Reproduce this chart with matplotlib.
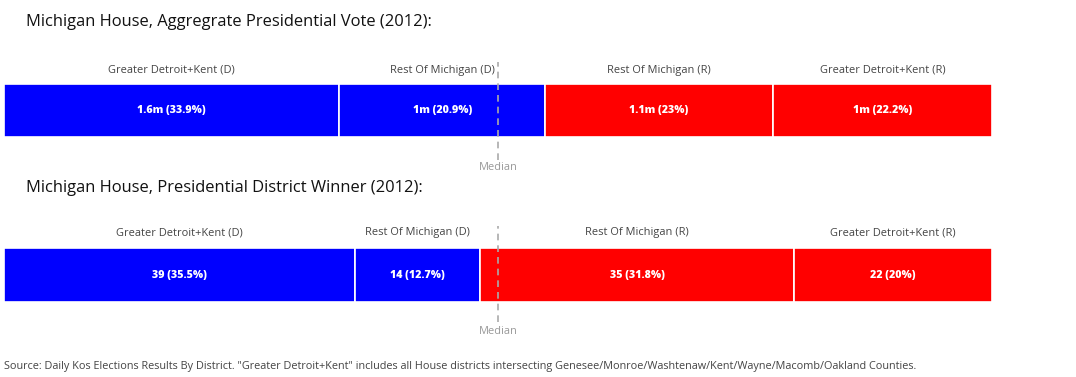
import matplotlib.pyplot as plt

plt.rcParams['font.family'] = ['Open Sans', 'DejaVu Sans']

# segments, in order left to right
segments = ["Greater Detroit+Kent (D)", "Rest Of Michigan (D)",
            "Rest Of Michigan (R)", "Greater Detroit+Kent (R)"]
colors = ["#0000ff", "#0000ff", "#ff0000", "#ff0000"]

vote_share = [33.9, 20.9, 23.0, 22.2]
vote_labels = ["1.6m (33.9%)", "1m (20.9%)", "1.1m (23%)", "1m (22.2%)"]

seats = [39, 14, 35, 22]
seat_share = [35.5, 12.7, 31.8, 20.0]
seat_labels = ["39 (35.5%)", "14 (12.7%)", "35 (31.8%)", "22 (20%)"]

title_top = "Michigan House, Aggregrate Presidential Vote (2012):"
title_bottom = "Michigan House, Presidential District Winner (2012):"
source = ('Source: Daily Kos Elections Results By District. "Greater Detroit+Kent" includes all House '
          'districts intersecting Genesee/Monroe/Washtenaw/Kent/Wayne/Macomb/Oakland Counties.')

W, H = 1076, 377
fig = plt.figure(figsize=(W / 100, H / 100), dpi=100)


def draw_strip(ax, shares, labels, cat_y, line_top, line_bot, med_y):
    left = 0
    for name, val, lab, c in zip(segments, shares, labels, colors):
        ax.barh(0.5, val, left=left, height=1, color=c, edgecolor="white", linewidth=1.2)
        mid = left + val / 2
        ax.text(mid, 0.5, lab, ha="center", va="center", color="white",
                fontsize=7.7, fontweight="heavy")
        ax.text(mid, cat_y, name, ha="center", va="center", color="#444444",
                fontsize=7.9, clip_on=False)
        left += val
    ax.plot([50, 50], [line_bot, line_top], color="#aaaaaa", lw=1.2,
            ls=(0, (4, 3)), clip_on=False, zorder=5)
    ax.text(50, med_y, "Median", ha="center", va="center", color="#999999",
            fontsize=7.9, clip_on=False)
    ax.set_xlim(0, 100)
    ax.set_ylim(0, 1)
    ax.axis("off")


x0, x1 = 4 / W, 992 / W
ax1 = fig.add_axes([x0, 1 - 137 / H, x1 - x0, 53 / H])
draw_strip(ax1, vote_share, vote_labels, 1.264, 1.415, -0.434, -0.58)

ax2 = fig.add_axes([x0, 1 - 302 / H, x1 - x0, 54 / H])
draw_strip(ax2, seat_share, seat_labels, 1.278, 1.407, -0.37, -0.55)

fig.text(26 / W, 1 - 22 / H, title_top, ha="left", va="center", fontsize=11.85, color="#111111")
fig.text(26 / W, 1 - 188 / H, title_bottom, ha="left", va="center", fontsize=11.85, color="#111111")
fig.text(4 / W, 1 - 366 / H, source, ha="left", va="center", fontsize=7.85, color="#444444")

fig.savefig("out.png", dpi=100, facecolor="white")
